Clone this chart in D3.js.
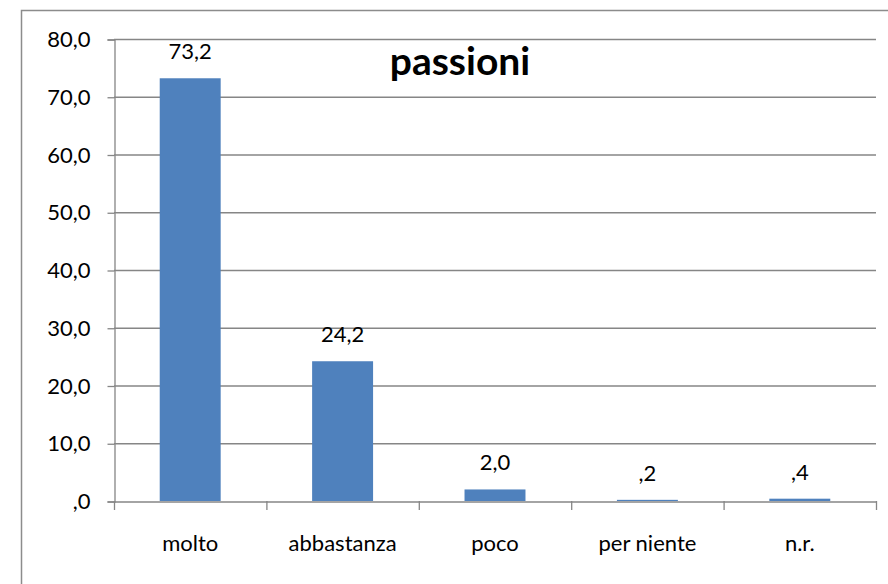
<!DOCTYPE html>
<html><head><meta charset="utf-8">
<script src="https://cdn.jsdelivr.net/npm/d3@7"></script>
<style>body{margin:0;background:#fff}svg{display:block}text{font-family:Lato,"Open Sans",sans-serif;fill:#000}</style>
</head><body>
<script>
const categories = ["molto","abbastanza","poco","per niente","n.r."];
const values = [73.2, 24.2, 2.0, 0.2, 0.4];
const valueLabels = ["73,2","24,2","2,0",",2",",4"];
const yTicks = [0,10,20,30,40,50,60,70,80];
const yTickLabels = [",0","10,0","20,0","30,0","40,0","50,0","60,0","70,0","80,0"];
const title = "passioni";

const W=888,H=584;
const svg=d3.select("body").append("svg").attr("width",W).attr("height",H);
// outer frame
svg.append("rect").attr("x",21.5).attr("y",10.5).attr("width",W).attr("height",H).attr("fill","#fff").attr("stroke","#8c8c8c").attr("stroke-width",1.5);

const x0=114,x1=876,yTop=39,yBot=501;
const x=d3.scaleBand().domain(categories).range([x0,x1]).padding(0);
const y=d3.scaleLinear().domain([0,80]).range([yBot,yTop]);
const FS=22;

// gridlines
svg.append("g").selectAll("line").data(yTicks.filter(d=>d>0)).join("line")
  .attr("x1",x0).attr("x2",x1).attr("y1",d=>y(d)+0.5).attr("y2",d=>y(d)+0.5)
  .attr("stroke","#868686").attr("stroke-width",1.3);

// y axis
const yAxis=d3.axisLeft(y).tickValues(yTicks).tickSize(7).tickFormat((d,i)=>yTickLabels[i]);
const gy=svg.append("g").attr("transform",`translate(${x0+0.5},0.5)`).call(yAxis);
gy.select(".domain").attr("stroke","#868686").attr("stroke-width",1.3);
gy.selectAll(".tick line").attr("stroke","#868686").attr("stroke-width",1.3);
gy.selectAll(".tick text").attr("x",-24).attr("font-size",FS).attr("font-family","Lato,sans-serif").attr("fill","#000");

// bars
const bw=x.bandwidth()*0.4;
svg.append("g").selectAll("rect").data(values).join("rect")
  .attr("x",(d,i)=>x(categories[i])+x.bandwidth()/2-bw/2)
  .attr("width",bw)
  .attr("y",d=>y(d)).attr("height",d=>yBot-y(d))
  .attr("fill","#4f81bd");

// x axis
const xAxis=d3.axisBottom(x).tickSize(0).tickFormat(d=>d);
const gx=svg.append("g").attr("transform",`translate(0,${yBot+0.5})`).call(xAxis);
gx.select(".domain").attr("stroke","#868686").attr("stroke-width",1.3);
gx.selectAll(".tick text").attr("y",49).attr("dy","0").attr("font-size",FS).attr("font-family","Lato,sans-serif").attr("fill","#000");
// category separator ticks
const sep=[...categories.map(c=>x(c)), x1];
svg.append("g").selectAll("line").data(sep).join("line")
  .attr("x1",d=>d+0.5).attr("x2",d=>d+0.5).attr("y1",yBot).attr("y2",yBot+9)
  .attr("stroke","#868686").attr("stroke-width",1.3);

// value labels
svg.append("g").selectAll("text").data(values).join("text")
  .attr("x",(d,i)=>x(categories[i])+x.bandwidth()/2)
  .attr("y",d=>y(d)-19)
  .attr("text-anchor","middle").attr("font-size",FS)
  .text((d,i)=>valueLabels[i]);

// title
svg.append("text").attr("x",460).attr("y",75).attr("text-anchor","middle")
  .attr("font-size",39).attr("font-weight","bold").text(title);
</script>
</body></html>
